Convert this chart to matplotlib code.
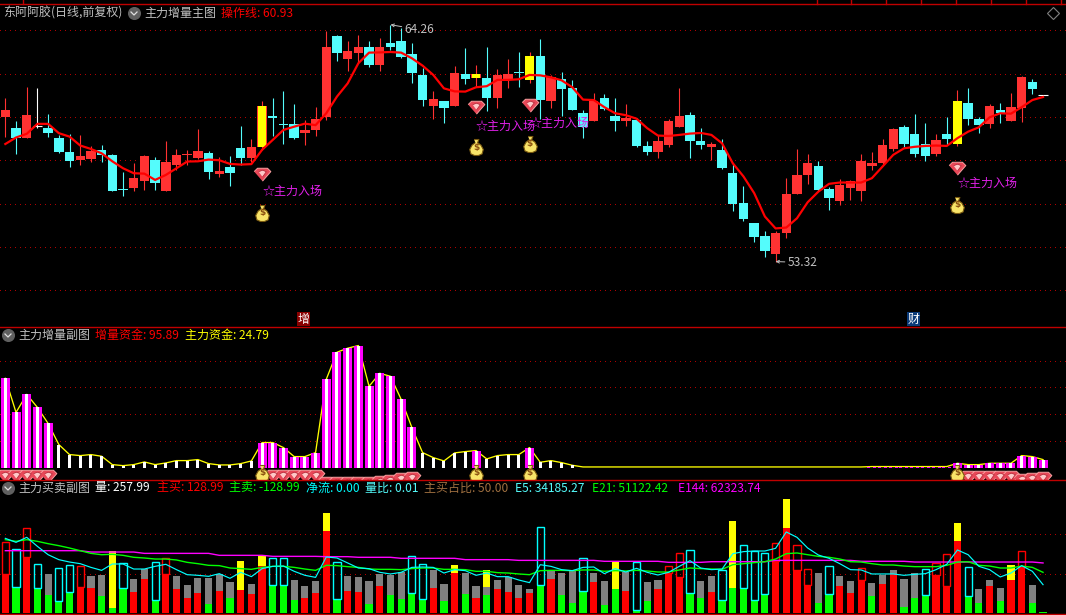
import matplotlib
matplotlib.use("Agg")
import matplotlib.pyplot as plt
from matplotlib.lines import Line2D
from matplotlib.patches import Rectangle

plt.rcParams['font.family'] = ['Noto Sans CJK SC', 'DejaVu Sans']
plt.rcParams['lines.scale_dashes'] = False

# ---------- main panel: daily candles ----------
opens = [59.98,59.49,59.03,59.57,59.49,59.03,58.38,58.02,58.06,58.48,
         58.25,56.68,56.72,57.05,58.02,56.58,57.78,58.25,58.11,58.34,
         57.37,57.69,58.57,58.11,58.62,60.05,59.68,59.68,59.26,59.40,
         60.00,63.74,62.68,62.95,63.23,62.40,63.42,63.51,62.91,61.94,
         60.51,60.74,60.51,61.98,61.80,61.80,60.88,61.75,62.08,61.71,
         62.82,60.74,61.75,61.34,60.18,59.82,60.88,60.05,59.82,59.86,
         58.66,58.38,58.71,59.54,60.09,58.89,58.62,58.48,57.42,56.03,
         55.11,54.51,53.68,54.65,56.45,57.32,57.74,56.68,56.12,56.72,
         56.58,57.74,57.88,58.52,59.54,59.22,58.75,58.29,59.22,58.75,
         60.65,59.91,59.68,60.32,59.82,60.42,61.62,61.00]
highs = [60.86,59.82,61.37,61.32,60.14,59.17,59.20,59.17,58.66,58.71,
         58.29,57.46,57.88,58.25,58.15,58.89,58.52,58.48,59.45,58.43,
         58.15,58.20,59.58,58.98,60.74,60.88,61.20,60.60,59.86,60.46,
         63.97,63.78,63.51,63.78,63.51,63.65,64.26,64.09,63.42,62.25,
         61.20,60.74,62.35,63.18,62.40,63.23,62.22,62.68,63.00,63.00,
         63.60,61.94,62.08,61.71,60.32,61.11,61.06,60.88,60.60,59.95,
         58.89,59.17,59.91,61.34,60.23,59.49,58.85,58.98,57.83,56.82,
         55.11,54.74,54.71,57.18,58.52,58.29,57.97,56.77,57.14,57.09,
         58.29,58.38,58.98,59.49,59.63,60.14,59.72,59.22,60.00,61.25,
         61.34,60.00,60.60,60.65,61.11,61.89,61.75,61.00]
lows = [59.09,58.29,59.02,59.48,59.05,58.35,57.71,57.78,57.92,57.92,
        56.58,56.35,56.58,56.63,56.63,56.58,57.55,57.78,58.06,57.14,
        57.23,56.83,57.78,57.92,58.48,59.12,58.75,58.98,58.71,59.12,
        59.86,62.58,62.12,62.48,62.32,62.12,63.09,62.71,61.55,60.51,
        59.91,59.72,60.51,61.52,61.40,60.28,60.42,61.34,61.38,61.57,
        59.91,60.42,60.05,60.32,59.03,59.82,60.32,59.35,59.58,58.62,
        58.25,58.11,58.62,59.54,58.11,58.52,58.02,57.60,55.66,55.20,
        54.23,53.54,53.32,54.42,56.45,56.91,56.58,55.71,55.94,56.17,
        56.12,57.55,57.83,58.43,58.62,58.15,57.97,58.20,58.71,58.66,
        59.63,59.26,59.49,59.72,59.82,59.77,61.06,61.00]
closes = [60.32,59.03,60.09,59.57,59.26,58.38,57.97,58.20,58.43,58.25,
          56.58,56.62,57.18,58.20,56.95,57.92,58.25,58.29,58.43,57.46,
          57.51,57.42,58.11,58.62,60.51,59.95,59.63,59.03,59.40,59.91,
          63.23,62.95,63.05,63.23,62.40,63.23,63.23,62.77,62.03,60.78,
          60.83,60.42,62.03,61.75,61.98,60.88,61.94,61.98,62.03,62.82,
          60.78,61.85,61.29,60.32,59.54,60.74,60.37,59.82,59.95,58.66,
          58.38,58.89,59.82,60.05,58.89,58.71,58.75,57.65,55.98,55.29,
          54.46,53.82,54.65,56.45,57.32,57.88,56.63,56.26,56.86,57.05,
          57.97,57.88,58.71,59.45,58.75,58.29,58.20,58.94,58.98,60.74,
          59.91,59.63,60.51,60.18,60.46,61.85,61.29,61.00]
yellow_candles = [24, 44, 49, 89]
op_line = [58.75,59.05,59.22,59.68,59.68,59.25,59.09,58.68,58.52,58.32,
           57.95,57.63,57.40,57.38,57.09,57.32,57.63,57.94,57.95,58.03,
           58.00,57.83,57.80,57.82,58.48,58.94,59.40,59.55,59.69,59.62,
           60.17,60.94,61.55,62.48,62.97,62.98,63.00,62.97,62.71,62.37,
           61.94,61.32,61.18,61.17,61.37,61.42,61.71,61.71,61.74,61.94,
           61.92,61.83,61.69,61.37,60.80,60.78,60.45,60.17,60.08,59.92,
           59.48,59.14,59.12,59.17,59.23,59.26,59.17,58.78,57.86,57.25,
           56.48,55.40,54.85,54.89,55.32,56.06,56.55,56.91,56.97,56.97,
           56.97,57.17,57.71,58.25,58.55,58.62,58.66,58.68,58.66,59.02,
           59.32,59.52,59.98,60.17,60.15,60.45,60.78,60.92]
signal_idx = [24, 44, 49, 89]
signal_gem = [57.35, 60.45, 60.55, 57.66]
signal_text = [56.55, 59.58, 59.68, 56.91]
signal_bag = [55.58, 58.60, 58.75, 55.94]
signal_label = '☆主力入场'
price_grid = [64, 62, 60, 58, 56, 54, 52]

# ---------- middle panel ----------
fund_vals = [66.75,41.25,54.75,45.0,33.0,17.25,9.75,9.0,9.75,8.5,
             2.25,1.5,2.25,4.25,2.25,3.5,5.25,5.25,6.0,3.0,
             2.0,2.0,3.0,5.0,18.75,18.75,15.0,8.25,8.25,11.25,
             66.0,86.25,89.25,91.25,60.75,70.5,68.25,51.0,30.0,11.25,
             7.5,5.0,11.0,12.0,12.75,6.5,9.0,9.75,9.75,15.0,
             4.0,5.25,3.75,1.75,0.5,0.5,0.5,0.5,0.5,0.5,
             0.5,0.5,0.5,0.5,0.5,0.5,0.5,0.5,0.5,0.5,
             0.5,0.5,0.5,0.5,0.5,0.5,0.5,0.5,0.5,0.5,
             0.5,0.8,0.8,0.8,0.8,0.8,0.8,0.8,0.8,3.25,
             2.25,2.25,3.25,3.25,3.25,9.0,8.25,6.0]
magenta_idx = [0,1,2,3,4,24,25,26,27,28,29,30,31,32,33,34,35,36,37,38,44,49,
               81,82,83,84,85,86,87,88,89,90,91,92,93,94,95,96,97]
white_only_bars = [5,6,7,8,9,10,11,12,13,14,15,16,17,18,19,20,21,22,23,
                   39,40,41,42,43,45,46,47,48,50,51,52,53]
gem_idx = [0,1,2,3,4,25,26,27,28,29,30,31,32,33,34,35,36,37,38,90,91,92,93,94,95,96,97]
gem_level = [-6.3,-6.3,-6.3,-6.3,-6.3,-6.3,-6.3,-6.3,-6.3,-6.3,
             -11.5,-11.5,-11.5,-11.5,-11.5,-10.8,-10.0,-8.5,-7.8,
             -6.8,-6.8,-6.8,-6.8,-6.8,-9.3,-8.5,-7.8]
bag_level = -4.0
fund_grid = [20, 40, 60, 80]

# ---------- volume panel (thousands) ----------
vol_lower = [49.6,33.0,71.2,31.8,22.9,15.3,26.7,33.0,31.8,21.6,
             6.4,31.8,26.7,43.2,16.5,49.6,30.5,19.1,25.4,11.4,
             28.0,19.1,29.2,24.2,59.7,35.6,35.6,16.5,19.1,25.4,
             104.2,17.8,28.0,26.7,11.4,34.3,22.9,17.8,25.4,17.8,
             31.8,15.3,50.8,24.2,19.1,22.9,30.5,26.7,19.1,25.4,
             35.6,43.2,22.9,12.7,28.0,39.4,10.2,30.5,28.0,3.8,
             15.3,30.5,50.8,45.8,25.4,19.1,26.7,16.9,32.2,32.2,
             16.9,24.6,66.5,108.5,55.1,36.0,13.1,24.6,34.7,25.8,
             42.4,22.0,37.3,50.0,8.1,19.5,23.3,48.7,34.7,91.9,
             22.0,13.1,34.7,15.7,42.4,58.9,13.1,1.3]
vol_total = [90.2,81.4,108.0,61.9,49.6,57.2,60.6,59.3,47.0,48.3,
             78.8,63.1,43.2,55.5,64.4,69.5,47.0,35.6,44.5,44.5,
             49.6,39.4,66.1,36.9,72.5,69.5,69.5,41.9,34.3,40.7,
             127.1,64.4,47.0,45.8,40.7,49.6,48.3,51.7,72.0,61.9,
             54.7,36.9,61.0,50.8,34.3,54.7,41.9,45.8,35.6,30.5,
             108.9,53.4,50.8,53.4,69.5,50.8,40.7,64.8,52.1,64.4,
             39.4,41.9,59.3,75.8,79.7,40.7,47.5,55.1,117.4,86.4,
             78.8,76.3,89.0,145.3,86.4,55.9,51.3,59.7,47.5,41.1,
             57.2,38.6,48.7,55.1,43.6,51.3,55.9,64.0,75.0,114.8,
             58.5,30.9,42.4,32.2,61.4,78.8,36.0,1.3]
green_lower = [1,3,4,5,6,9,10,11,14,19,21,25,26,27,31,34,36,37,38,39,41,43,45,
               50,52,53,54,56,57,59,60,64,65,67,68,69,70,71,76,77,81,84,85,86,90,91,93,96,97]
yellow_upper = [10,22,24,30,42,45,57,68,73,89,94]
hollow_upper = [0,1,2,3,5,6,7,11,14,15,25,26,31,38,39,50,54,59,62,63,64,
                67,69,70,71,72,74,75,77,80,86,87,88,90,95]
grey_extra = {45: 33.0}
E5 = [94.9,89.8,96.2,84.7,74.1,67.8,64.8,62.7,58.0,54.2,
      62.3,62.3,55.9,55.9,59.3,61.9,55.1,48.7,47.9,46.6,
      50.0,44.1,51.7,46.2,56.4,59.3,59.7,53.0,47.9,45.3,
      71.2,69.9,63.6,57.2,56.4,51.7,49.6,51.7,58.0,58.5,
      58.0,50.8,55.1,53.8,47.9,50.8,46.2,46.2,41.9,38.6,
      61.4,59.3,55.1,53.8,58.0,58.5,50.0,56.4,52.1,56.8,
      51.7,48.3,51.7,59.3,66.5,57.2,55.1,55.9,75.4,78.0,
      78.8,78.8,82.2,103.0,96.2,82.6,73.7,69.5,62.7,55.1,
      54.7,49.6,49.6,49.6,47.9,49.1,50.0,55.1,61.9,80.1,
      74.1,59.3,55.1,45.8,50.8,60.2,53.0,36.0]
E21 = [93.2,91.1,93.2,91.1,88.1,85.6,82.6,79.2,75.8,74.1,
       74.6,73.3,70.8,69.9,68.6,68.6,67.4,64.4,62.7,60.6,
       60.2,57.2,56.4,55.5,58.0,59.3,59.3,58.0,55.9,54.2,
       60.6,60.2,58.9,58.0,55.9,55.5,55.5,55.1,56.4,57.2,
       57.2,55.5,55.5,55.1,53.0,53.0,51.3,50.8,49.6,48.7,
       53.8,54.2,54.2,53.8,54.7,54.7,53.0,53.8,53.4,54.2,
       53.4,52.1,52.1,54.7,57.2,56.4,55.9,55.5,61.4,62.7,
       64.0,65.2,68.6,75.4,76.3,74.1,72.0,70.8,68.6,65.2,
       64.8,62.7,61.0,61.0,59.7,58.9,58.9,58.9,60.6,64.8,
       65.2,60.6,59.7,57.2,57.2,59.7,58.0,51.7]
E144 = [79.2,79.2,79.2,79.2,79.2,79.2,79.2,79.2,77.5,77.5,
        77.5,77.5,77.5,75.8,75.8,75.8,75.8,75.8,75.8,75.8,
        73.3,73.3,73.3,73.3,73.3,72.0,72.0,72.0,72.0,72.0,
        71.6,71.6,71.6,70.8,70.8,70.8,70.8,69.5,69.5,69.5,
        69.5,69.5,69.5,67.8,67.8,67.8,67.8,67.8,66.9,66.9,
        66.9,66.9,66.9,66.9,66.9,66.9,65.7,65.7,65.7,65.7,
        65.7,65.7,64.4,64.4,64.4,64.4,65.2,65.2,65.2,65.2,
        65.2,65.2,66.9,66.9,66.9,66.9,66.9,66.9,66.9,66.9,
        65.7,65.7,65.7,65.7,65.7,64.8,64.8,64.8,64.8,64.8,
        64.8,64.8,64.8,64.8,64.8,64.8,64.8,63.6]
vol_grid = [50, 100]

header_main = [(3, '东阿阿胶(日线,前复权)', '#C0C0C0'), (144, '主力增量主图', '#C0C0C0'),
               (221, '操作线: 60.93', '#FF0000')]
header_fund = [(18, '主力增量副图', '#C0C0C0'), (95, '增量资金: 95.89', '#FF0000'),
               (185, '主力资金: 24.79', '#FFFF00')]
header_vol = [(18, '主力买卖副图', '#C0C0C0'), (95, '量: 257.99', '#FFFFFF'),
              (157, '主买: 128.99', '#FF0000'), (229, '主卖: -128.99', '#00FF00'),
              (306, '净流: 0.00', '#00FFFF'), (365, '量比: 0.01', '#54FCFC'),
              (424, '主买占比: 50.00', '#A07040'), (515, 'E5: 34185.27', '#54FCFC'),
              (592, 'E21: 51122.42', '#00FF00'), (678, 'E144: 62323.74', '#FF00FF')]

# ---------- layout ----------
W, H = 1066, 615
PX_UNIT = 10.698
X0 = 5.33
fig = plt.figure(figsize=(W / 100, H / 100), dpi=100, facecolor='black')

def panel(top, bottom):
    ax = fig.add_axes([0, 1 - bottom / H, 1, (bottom - top) / H], facecolor='black')
    ax.set_xlim(-X0 / PX_UNIT, (W - X0) / PX_UNIT)
    ax.axis('off')
    return ax

GRID = dict(color='#B00000', lw=0.72, ls=(0, (0.72, 3.0)), zorder=0, antialiased=False)
n = len(opens)
xs = list(range(n))

def solid(ax, x, height, bottom, width, color, z):
    ax.bar(x, height, bottom=bottom, width=width, color=color, lw=0, zorder=z, snap=True)

# main panel
ax1 = panel(3.3, 326)
ax1.set_ylim(64 - (326 - 30.33) / 21.65, 64 + (30.33 - 3.3) / 21.65)
for g in price_grid:
    ax1.axhline(g, **GRID)
CRED, CCYAN, CYEL = '#FF3232', '#54FCFC', '#FFFF00'
body_w = 9.4 / PX_UNIT
for i in xs:
    o, h, l, c = opens[i], highs[i], lows[i], closes[i]
    col = CRED if c > o else (CCYAN if c < o else '#FFFFFF')
    ax1.vlines(i, l, h, color=col, lw=0.8, zorder=2, snap=True)
    lo, hi = min(o, c), max(o, c)
    if hi - lo < 0.03:
        ax1.hlines(c, i - body_w / 2, i + body_w / 2, color=col, lw=0.8, zorder=3, snap=True)
    else:
        solid(ax1, i, hi - lo, lo, body_w, col, 3)
    if i in yellow_candles:
        solid(ax1, i, hi - lo, lo, 8.2 / PX_UNIT, CYEL, 3.5)
ax1.plot(xs, op_line, color='#FF0000', lw=1.6, zorder=4, solid_joinstyle='round')

GEM = [(-1.0, 0.35), (-0.6, 0.75), (0.6, 0.75), (1.0, 0.35), (0, -0.8)]
GEM_IN = [(-0.55, 0.4), (0, 0.62), (0.55, 0.4), (0, -0.35)]
BAG = [(-0.3, 1.0), (0.3, 1.0), (0.14, 0.6), (0.55, 0.3), (0.85, -0.25), (0.7, -0.8),
       (0.25, -1.0), (-0.25, -1.0), (-0.7, -0.8), (-0.85, -0.25), (-0.55, 0.3), (-0.14, 0.6)]

def gem(ax, x, y, z=6):
    ax.plot([x], [y], marker=GEM, ms=12, mfc='#E84858', mec='#F8A0A0', mew=0.7, ls='none', zorder=z)
    ax.plot([x], [y], marker=GEM_IN, ms=6.2, mfc='#FFC8C8', mec='#B02030', mew=0.5, ls='none', zorder=z + 0.1)

def bag(ax, x, y, z=7):
    ax.plot([x], [y], marker=BAG, ms=11.5, mfc='#F8E468', mec='#7A5A10', mew=0.8, ls='none', zorder=z)
    ax.text(x, y, r'\$', color='#8A5010', fontsize=6.5, fontweight='bold', ha='center', va='center',
            zorder=z + 0.1, family='DejaVu Sans')

for i, g, t, b in zip(signal_idx, signal_gem, signal_text, signal_bag):
    gem(ax1, i, g)
    ax1.text(i, t, signal_label, color='#E020E8', fontsize=8.64, ha='left', va='center', zorder=6)
    bag(ax1, i, b)

hi_i = highs.index(max(highs))
lo_i = lows.index(min(lows))
GREY = '#C0C0C0'
ax1.annotate(f'{max(highs):.2f}', xy=(hi_i, max(highs)), xytext=(14, -5), textcoords='offset pixels',
             color=GREY, fontsize=8.64, va='center', ha='left', zorder=6,
             arrowprops=dict(arrowstyle='->', color=GREY, lw=0.7, shrinkA=0, shrinkB=0, mutation_scale=5))
ax1.annotate(f'{min(lows):.2f}', xy=(lo_i, min(lows)), xytext=(12, -1), textcoords='offset pixels',
             color=GREY, fontsize=8.64, va='center', ha='left', zorder=6,
             arrowprops=dict(arrowstyle='->', color=GREY, lw=0.7, shrinkA=0, shrinkB=0, mutation_scale=5))

# middle panel
ax2 = panel(327, 479)
ax2.set_ylim(-8.5, 105.1)
for g in fund_grid:
    ax2.axhline(g, **GRID)
ax2.plot(xs, fund_vals, color='#FFFF00', lw=0.95, zorder=1)
stripe = 3 / PX_UNIT
for i in magenta_idx:
    v = fund_vals[i]
    solid(ax2, [i - stripe, i + stripe], [v, v], 0, stripe, '#FF00FF', 2)
    if v >= 1:
        solid(ax2, i, v, 0, stripe, '#FFFFFF', 2)
for i in white_only_bars:
    solid(ax2, i, fund_vals[i], 0, stripe, '#FFFFFF', 2)
for i, lv in zip(gem_idx, gem_level):
    gem(ax2, i, lv)
for i in signal_idx:
    bag(ax2, i, bag_level)

# volume panel
ax3 = panel(479.5, 613)
ax3.set_ylim(0, 133.5 * 0.4237 * 3)
for g in vol_grid:
    ax3.axhline(g, **GRID)
vw = 7.2 / PX_UNIT
for i in xs:
    low, tot = vol_lower[i], vol_total[i]
    green = i in green_lower
    solid(ax3, i, low, 0, vw, '#00FF00' if green else '#FF0000', 2)
    if i in hollow_upper:
        ax3.add_patch(Rectangle((i - vw / 2, low), vw, tot - low, fill=False,
                                ec='#00FFFF' if green else '#FF0000', lw=1.0, zorder=2, snap=True))
    elif i in yellow_upper:
        base = low
        if i in grey_extra:
            solid(ax3, i, grey_extra[i] - low, low, vw, '#808080', 2)
            base = grey_extra[i]
        solid(ax3, i, tot - base, base, vw, '#FFFF00', 2)
    elif tot > low:
        solid(ax3, i, tot - low, low, vw, '#808080', 2)
ax3.plot(xs, E144, color='#FF00FF', lw=1.0, zorder=3)
ax3.plot(xs, E21, color='#00FF00', lw=1.0, zorder=4)
ax3.plot(xs, E5, color='#00FFFF', lw=0.85, zorder=5)

# frame lines, ticks
def fx(x):
    return x / W

def fy(y):
    return 1 - y / H

RED_LINE = '#C00000'
for y in [3.5, 326.5, 479.5, 614.0]:
    fig.add_artist(Line2D([0, 1], [fy(y), fy(y)], color=RED_LINE, lw=1.0, snap=True))
for x in [23, 817, 851, 886, 921, 956, 991, 1026, 1061]:
    fig.add_artist(Line2D([fx(x), fx(x)], [fy(0), fy(3.5)], color=RED_LINE, lw=1.0, snap=True))

# headers
def header(items, y):
    for x, s, c in items:
        fig.text(fx(x), fy(y), s, color=c, fontsize=8.64, ha='left', va='center', zorder=20)

def icon(x, y):
    fig.add_artist(Line2D([fx(x)], [fy(y)], marker='o', ms=8.4, mfc='#606060', mec='#606060', ls='none'))
    fig.add_artist(Line2D([fx(x - 3), fx(x), fx(x + 3)], [fy(y - 1), fy(y + 2), fy(y - 1)],
                          color='#E0E0E0', lw=0.9))

header(header_main, 13)
header(header_fund, 335)
header(header_vol, 488)
icon(134, 13)
icon(8, 335)
icon(8, 488)
fig.add_artist(Line2D([fx(1053)], [fy(13)], marker='D', ms=6.5, mfc='none', mec='#808080', mew=0.8, ls='none'))

# date markers on the main panel's lower edge
for x, s, bg in [(297, '增', '#8A0000'), (907, '财', '#0A3A78')]:
    fig.add_artist(Rectangle((fx(x), fy(326)), 13 / W, 14 / H, transform=fig.transFigure, fc=bg, ec='none'))
    fig.text(fx(x + 6.5), fy(319), s, color='#FFFFFF', fontsize=8.64, ha='center', va='center', zorder=20)

fig.savefig('out.png', dpi=100, facecolor='black')
